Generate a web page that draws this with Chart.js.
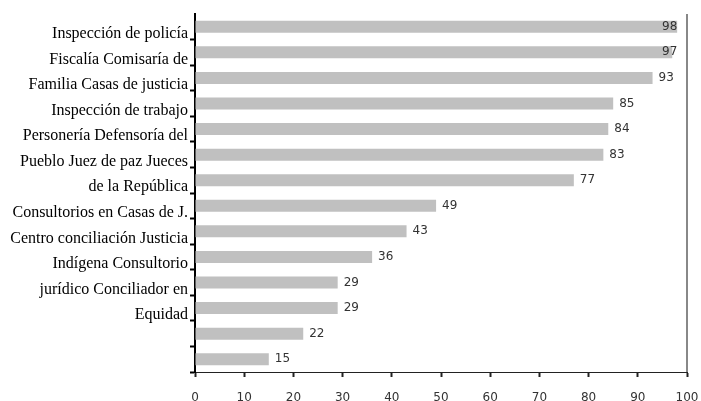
<!DOCTYPE html>
<html lang="es">
<head>
    <meta charset="UTF-8">
    <title>Instituciones</title>
    <script src="https://cdn.jsdelivr.net/npm/chart.js"></script>
    <style>
        html, body {
            margin: 0;
            padding: 0;
            background: #fff;
        }
        #chartContainer {
            width: 701px;
            height: 401px;
        }
    </style>
</head>
<body>
    <div id="chartContainer">
        <canvas id="barChart" width="701" height="401"></canvas>
    </div>

    <script>
        const categories = [
            'Inspección de policía',
            'Fiscalía Comisaría de',
            'Familia Casas de justicia',
            'Inspección de trabajo',
            'Personería Defensoría del',
            'Pueblo Juez de paz Jueces',
            'de la República',
            'Consultorios en Casas de J.',
            'Centro conciliación Justicia',
            'Indígena Consultorio',
            'jurídico Conciliador en',
            'Equidad',
            '',
            ''
        ];
        const values = [98, 97, 93, 85, 84, 83, 77, 49, 43, 36, 29, 29, 22, 15];
        const xTicks = [0, 10, 20, 30, 40, 50, 60, 70, 80, 90, 100];

        // value next to each bar, pulled back when it would run past the frame
        const valueLabels = {
            id: 'valueLabels',
            afterDatasetsDraw(chart) {
                const ctx = chart.ctx;
                const area = chart.chartArea;
                const meta = chart.getDatasetMeta(0);
                ctx.save();
                ctx.font = '12px "DejaVu Sans"';
                ctx.fillStyle = '#333';
                ctx.textBaseline = 'middle';
                meta.data.forEach((bar, i) => {
                    const x = Math.min(bar.x + 6, area.right - 25);
                    ctx.fillText(String(values[i]), x, bar.y);
                });
                ctx.restore();
            }
        };

        const rightFrame = {
            id: 'rightFrame',
            afterDraw(chart) {
                const ctx = chart.ctx;
                const area = chart.chartArea;
                ctx.save();
                ctx.strokeStyle = '#888';
                ctx.lineWidth = 2;
                ctx.beginPath();
                ctx.moveTo(area.right, area.top);
                ctx.lineTo(area.right, area.bottom);
                ctx.stroke();
                ctx.restore();
            }
        };

        const ctx = document.getElementById('barChart').getContext('2d');

        new Chart(ctx, {
            type: 'bar',
            data: {
                labels: categories,
                datasets: [{
                    data: values,
                    backgroundColor: '#c0c0c0',
                    barPercentage: 0.47,
                    categoryPercentage: 1
                }]
            },
            options: {
                indexAxis: 'y',
                responsive: false,
                animation: false,
                layout: {
                    padding: { top: 14, right: 14, left: 0, bottom: 0 }
                },
                plugins: {
                    legend: { display: false },
                    tooltip: { enabled: false }
                },
                scales: {
                    x: {
                        min: 0,
                        max: 100,
                        afterFit(scale) {
                            scale.height = 29;
                            scale.paddingLeft = 0;
                            scale.paddingRight = 0;
                        },
                        afterBuildTicks(scale) {
                            scale.ticks = xTicks.map(v => ({ value: v }));
                        },
                        ticks: {
                            padding: 14,
                            color: '#333',
                            font: { family: 'DejaVu Sans', size: 12 }
                        },
                        grid: {
                            drawOnChartArea: false,
                            tickLength: 5,
                            tickWidth: 2,
                            tickColor: '#222'
                        },
                        border: { color: '#222', width: 1 }
                    },
                    y: {
                        afterFit(scale) { scale.width = 195; },
                        ticks: {
                            padding: 2,
                            labelOffset: 7,
                            color: '#000',
                            font: { family: 'Liberation Serif', size: 16 }
                        },
                        grid: {
                            offset: true,
                            drawOnChartArea: false,
                            tickLength: 5,
                            tickWidth: 2,
                            // no tick mark on the top edge
                            tickColor: c => (c.index === 0 ? 'rgba(0,0,0,0)' : '#000')
                        },
                        border: { color: '#000', width: 2 }
                    }
                }
            },
            plugins: [valueLabels, rightFrame]
        });
    </script>
</body>
</html>
